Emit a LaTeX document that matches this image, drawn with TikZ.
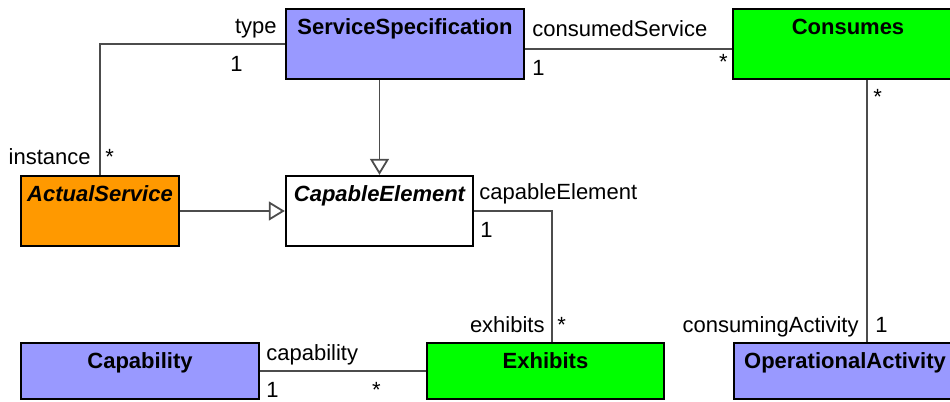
\documentclass[tikz,border=0pt]{standalone}
\usepackage{fontspec}
\setmainfont{Liberation Sans}
\usepackage{xcolor}
\usepackage{tikz}
\usetikzlibrary{arrows.meta,fit}

\definecolor{specblue}{RGB}{153,153,255}
\definecolor{linkgreen}{RGB}{0,255,0}
\definecolor{actualorange}{RGB}{255,153,0}

\begin{document}
\begin{tikzpicture}[x=0.5pt, y=-0.5pt, font=\fontsize{11}{13}\selectfont,
  classbox/.style={draw=black, line width=1.2pt, inner sep=0pt},
  classname/.style={anchor=base, inner sep=0pt, font=\fontsize{11}{13}\selectfont\bfseries},
  abstractname/.style={classname, font=\fontsize{11}{13}\selectfont\bfseries\itshape},
  assoc/.style={draw=black!70, line width=0.9pt},
  gen/.style={assoc, -{Triangle[open, length=8pt, width=9.5pt, fill=white]}},
  role/.style={inner sep=0pt}]
\def\Top{9}
\def\Mid{176}
\def\Low{343}

% Frame of the picture
\path[use as bounding box, clip] (0,0) rectangle (950,402);

% Draw the classes
\node[classbox, fill=specblue, fit={(286,\Top) (524,79)}] (spec) {};
\node[classbox, fill=linkgreen, fit={(733,\Top) (963,79)}] (consumes) {};
\node[classbox, fill=actualorange, fit={(21,\Mid) (179,246)}] (actual) {};
\node[classbox, fill=white, fit={(286,\Mid) (473,246)}] (ce) {};
\node[classbox, fill=specblue, fit={(21,\Low) (259,399)}] (capability) {};
\node[classbox, fill=linkgreen, fit={(427,\Low) (664,399)}] (exhibits) {};
\node[classbox, fill=specblue, fit={(734,\Low) (956,399)}] (activity) {};

% Class names
\node[classname] (spec-name) at ([yshift=-13.5pt]spec.north) {ServiceSpecification};
\node[classname] (consumes-name) at ([yshift=-13.5pt]consumes.north) {Consumes};
\node[abstractname] (actual-name) at ([yshift=-13.5pt]actual.north) {ActualService};
\node[abstractname] (ce-name) at ([yshift=-13.5pt]ce.north) {CapableElement};
\node[classname] (capability-name) at ([yshift=-13.5pt]capability.north) {Capability};
\node[classname] (exhibits-name) at ([yshift=-13.5pt]exhibits.north) {Exhibits};
\node[classname] (activity-name) at ([yshift=-13.5pt]activity.north) {OperationalActivity};

% Generalizations
\draw[gen] (spec.south -| ce.north) -- (ce.north);
\draw[gen] (actual.east) -- (ce.west);

% Associations
\draw[assoc] (spec.west) -| (actual.north);
\draw[assoc] (spec.east |- 0,49) -- (consumes.west |- 0,49);
\draw[assoc] (consumes.south -| 867,0) -- (activity.north -| 867,0);
\draw[assoc] (ce.east) -| (exhibits.north -| 552,0);
\draw[assoc] (capability.east) -- (exhibits.west);

% Role names and multiplicities
\node[role, anchor=base east] (type-role) at (277,33) {type};
\node[role, anchor=base east] (type-mult) at (243,71) {1};
\node[role, anchor=base east] (instance-role) at (91,164) {instance};
\node[role, anchor=base west] (instance-mult) at (105,164) {*};

\node[role, anchor=base west] (consumed-role) at (532,36) {consumedService};
\node[role, anchor=base west] (consumed-mult) at (532,75) {1};
\node[role, anchor=base east] (consumes-mult) at (728,69) {*};
\node[role, anchor=base west] (consumes-mult2) at (873,104) {*};

\node[role, anchor=base east] (consuming-role) at (859,332) {consumingActivity};
\node[role, anchor=base west] (consuming-mult) at (875,332) {1};

\node[role, anchor=base west] (capable-role) at (479,199) {capableElement};
\node[role, anchor=base west] (capable-mult) at (480,237) {1};
\node[role, anchor=base east] (exhibits-role) at (545,332) {exhibits};
\node[role, anchor=base west] (exhibits-mult) at (557,332) {*};

\node[role, anchor=base west] (capability-role) at (266,360) {capability};
\node[role, anchor=base west] (capability-mult) at (266,397) {1};
\node[role, anchor=base east] (capability-mult2) at (381,397) {*};
\end{tikzpicture}
\end{document}
